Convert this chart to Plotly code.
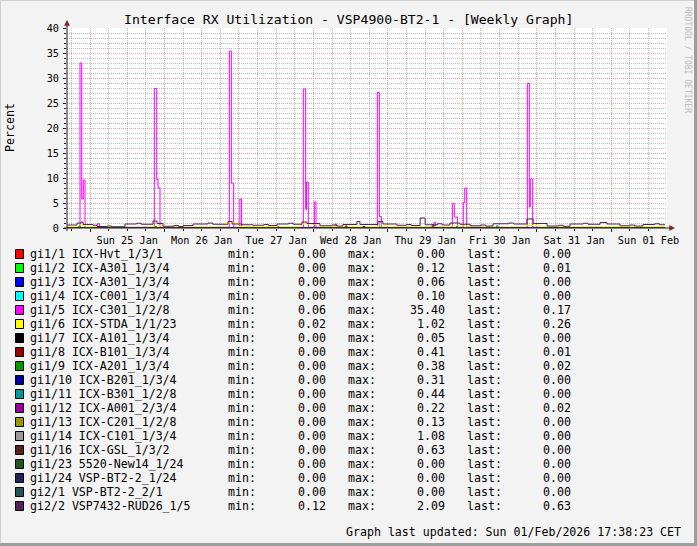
import plotly.graph_objects as go
import pandas as pd

# ---------------- data ----------------
BASE = pd.Timestamp("2026-01-25 00:00")
X_START = "2026-01-24 16:35"
X_END = "2026-02-01 17:57"

names = ["gi1/1 ICX-Hvt_1/3/1", "gi1/2 ICX-A301_1/3/4", "gi1/3 ICX-A301_1/3/4",
         "gi1/4 ICX-C001_1/3/4", "gi1/5 ICX-C301_1/2/8", "gi1/6 ICX-STDA_1/1/23",
         "gi1/7 ICX-A101_1/3/4", "gi1/8 ICX-B101_1/3/4", "gi1/9 ICX-A201_1/3/4",
         "gi1/10 ICX-B201_1/3/4", "gi1/11 ICX-B301_1/2/8", "gi1/12 ICX-A001_2/3/4",
         "gi1/13 ICX-C201_1/2/8", "gi1/14 ICX-C101_1/3/4", "gi1/16 ICX-GSL_1/3/2",
         "gi1/23 5520-New14_1/24", "gi1/24 VSP-BT2-2_1/24", "gi2/1 VSP-BT2-2_2/1",
         "gi2/2 VSP7432-RUD26_1/5"]
colors = ["#FF0000", "#00FF00", "#0000FF", "#00FFFF", "#FF00FF", "#FFFF00",
          "#000000", "#990000", "#009900", "#000099", "#009999", "#990099",
          "#999900", "#999999", "#552222", "#225522", "#222255", "#225555",
          "#552255"]
mins = [0.00, 0.00, 0.00, 0.00, 0.06, 0.02, 0.00, 0.00, 0.00, 0.00, 0.00, 0.00,
        0.00, 0.00, 0.00, 0.00, 0.00, 0.00, 0.12]
maxs = [0.00, 0.12, 0.06, 0.10, 35.40, 1.02, 0.05, 0.41, 0.38, 0.31, 0.44, 0.22,
        0.13, 1.08, 0.63, 0.00, 0.00, 0.00, 2.09]
lasts = [0.00, 0.01, 0.00, 0.00, 0.17, 0.26, 0.00, 0.01, 0.02, 0.00, 0.00, 0.02,
         0.00, 0.00, 0.00, 0.00, 0.00, 0.00, 0.63]

# step series: change times (hours after Sun 25 Jan 00:00) and values
hours = [
    [-8, 185.3],                                   # gi1/1
    [-8, 23.0, 23.5, 129.5, 130.0, 185.3],          # gi1/2
    [-8, 60.0, 61.0, 185.3],                        # gi1/3
    [-8, 130.8, 131.3, 185.3],                      # gi1/4
    [-8, -3.22, -2.67, -2.16, -1.61, 2.3, 3.0, 20.72, 21.5, 21.92, 22.56,
     44.9, 45.54, 46.3, 48.3, 48.85, 68.74, 69.5, 69.76, 70.35, 72.3, 72.84,
     79.0, 79.5, 92.6, 93.24, 93.9, 110.9, 111.4, 116.77, 117.4, 118.4,
     120.3, 120.77, 121.4, 140.94, 141.58, 141.9, 142.67, 185.3],  # gi1/5
    [-8, -3.2, -1.3, 9.7, 19.3, 24.2, 43.5, 47.7, 67.7, 74.1, 93.5, 96.7,
     116.0, 122.5, 140.2, 145.0, 164.4, 185.3],     # gi1/6
    [-8, 185.3],                                   # gi1/7
    [-8, 82.3, 82.8, 185.3],                        # gi1/8
    [-8, -3.6, -3.1, 21.0, 21.5, 185.3],            # gi1/9
    [-8, 88.0, 88.5, 185.3],                        # gi1/10
    [-8, 118.0, 118.5, 131.0, 131.5, 185.3],        # gi1/11
    [-8, 60.5, 61.0, 185.3],                        # gi1/12
    [-8, 100.0, 100.5, 185.3],                      # gi1/13
    [-8, 93.3, 93.9, 185.3],                        # gi1/14
    [-8, 110.3, 110.8, 185.3],                      # gi1/16
    [-8, 185.3],                                   # gi1/23
    [-8, 185.3],                                   # gi1/24
    [-8, 185.3],                                   # gi2/1
    [-8, -4.19, -2.9, -2.26, 0.97, 2.26, 5.5, 7.0, 11.28, 15.0, 16.5, 20.3,
     21.6, 23.5, 27.0, 28.5, 30.0, 33.2, 38.0, 39.5, 44.5, 45.8, 49.0, 52.5,
     56.0, 57.5, 60.3, 64.0, 65.5, 68.3, 69.9, 74.1, 78.0, 79.5, 81.5, 86.0,
     87.0, 92.8, 94.4, 98.9, 102.0, 103.5, 106.4, 108.0, 112.0, 113.5, 116.0,
     119.2, 122.5, 126.0, 127.5, 129.9, 135.0, 136.5, 140.8, 142.8, 147.3,
     151.0, 152.5, 154.7, 159.0, 160.5, 164.4, 166.6, 170.8, 174.0, 175.5,
     178.2, 182.0, 183.5, 185.3],                   # gi2/2
]
values = [
    [0.0, 0.0],
    [0.0, 0.12, 0.0, 0.10, 0.01, 0.01],
    [0.0, 0.06, 0.0, 0.0],
    [0.0, 0.10, 0.0, 0.0],
    [0.15, 33.0, 5.8, 9.6, 0.15, 0.85, 0.15, 27.9, 9.7, 8.0, 0.15,
     35.4, 9.0, 0.15, 5.8, 0.15, 27.8, 3.7, 9.2, 0.15, 5.2, 0.15,
     0.8, 0.15, 27.1, 2.3, 0.15, 1.1, 0.15, 4.9, 2.2, 0.15,
     5.1, 8.0, 0.15, 28.9, 4.2, 9.8, 0.15, 0.17],
    [0.3, 0.5, 0.3, 0.15, 0.4, 0.2, 1.02, 0.3, 0.8, 0.3, 0.4, 0.25,
     0.4, 0.2, 0.5, 0.25, 0.3, 0.26],
    [0.0, 0.0],
    [0.0, 0.41, 0.0, 0.01],
    [0.0, 0.38, 0.0, 0.3, 0.0, 0.02],
    [0.0, 0.31, 0.0, 0.0],
    [0.0, 0.3, 0.0, 0.44, 0.0, 0.0],
    [0.0, 0.22, 0.0, 0.02],
    [0.0, 0.13, 0.0, 0.0],
    [0.0, 1.08, 0.0, 0.0],
    [0.0, 0.63, 0.0, 0.0],
    [0.0, 0.0],
    [0.0, 0.0],
    [0.0, 0.0],
    [0.6, 1.0, 1.2, 0.7, 0.55, 0.3, 0.4, 0.25, 0.8, 0.95, 0.75, 1.4,
     0.9, 0.35, 0.5, 0.3, 0.5, 0.8, 1.0, 0.75, 1.3, 0.8, 0.65, 0.55,
     0.7, 0.5, 0.8, 0.95, 0.75, 1.2, 0.9, 0.45, 0.6, 0.4, 0.7, 1.3,
     0.7, 1.3, 0.8, 0.55, 0.7, 0.5, 2.0, 0.65, 0.85, 0.6, 1.0,
     0.75, 0.45, 0.6, 0.4, 0.85, 1.0, 0.8, 1.8, 0.9, 0.4,
     0.55, 0.35, 0.8, 0.95, 0.75, 1.1, 0.8, 0.45, 0.6, 0.4,
     0.7, 0.85, 0.65, 0.63],
]

TITLE = "Interface RX Utilization - VSP4900-BT2-1 - [Weekly Graph]"
Y_TITLE = "Percent"
UPDATED = "Graph last updated: Sun 01/Feb/2026 17:38:23 CET"
WATERMARK = "RRDTOOL / TOBI OETIKER"

# ---------------- layout geometry ----------------
W, H = 697, 546
PL, PR, PT, PB = 67, 667, 28, 228
MONO = "DejaVu Sans Mono"


def xp(px):
    return (px - PL) / (PR - PL)


def yp(py):
    return (PB - py) / (PB - PT)


fig = go.Figure()
for i in range(len(names)):
    t = BASE + pd.to_timedelta(hours[i], unit="h")
    fig.add_trace(go.Scatter(x=t, y=values[i], mode="lines", line_shape="hv",
                             line=dict(color=colors[i], width=1),
                             name=names[i], showlegend=False, hoverinfo="skip"))

MGRID = "rgba(222,79,79,0.55)"
GRID = "rgba(143,143,143,0.60)"

fig.update_xaxes(type="date", range=[X_START, X_END], tick0="2026-01-25",
                 dtick=86400000, tickformat="%a %d %b", ticklabelmode="period",
                 showgrid=True, gridcolor=MGRID, griddash="1px,1px", gridwidth=1,
                 ticks="outside", ticklen=3, tickcolor="#1F1F1F",
                 tickfont=dict(family=MONO, size=10.2, color="#000000"),
                 showline=False, zeroline=False,
                 minor=dict(dtick=6 * 3600000, tick0="2026-01-25", showgrid=True,
                            gridcolor=GRID, griddash="1px,1px", ticks="outside",
                            ticklen=2, tickcolor="#1F1F1F"))
fig.update_yaxes(range=[0, 40], tick0=0, dtick=5, showgrid=True, gridcolor=MGRID,
                 griddash="1px,1px", ticks="outside", ticklen=3, tickcolor="#1F1F1F",
                 tickfont=dict(family=MONO, size=10.2, color="#000000"),
                 ticklabelstandoff=2, showline=False, zeroline=False,
                 minor=dict(dtick=1, showgrid=True, gridcolor=GRID, griddash="1px,1px",
                            ticks="outside", ticklen=2, tickcolor="#1F1F1F"))

shapes = []
# axes with arrows
shapes.append(dict(type="line", xref="paper", yref="paper", x0=xp(PL), x1=xp(PL),
                   y0=yp(231), y1=yp(24), line=dict(color="#1F1F1F", width=1)))
shapes.append(dict(type="line", xref="paper", yref="paper", x0=xp(64), x1=xp(670),
                   y0=yp(PB), y1=yp(PB), line=dict(color="#1F1F1F", width=1)))


def tri(pts):
    s = "M " + " L ".join(f"{xp(a)},{yp(b)}" for a, b in pts) + " Z"
    return s


shapes.append(dict(type="path", xref="paper", yref="paper",
                   path=tri([(64.5, 25.5), (69.5, 25.5), (67, 20.5)]),
                   fillcolor="#801F1F", line=dict(color="#801F1F", width=0.5)))
shapes.append(dict(type="path", xref="paper", yref="paper",
                   path=tri([(669.5, 225.5), (669.5, 230.5), (674.5, 228)]),
                   fillcolor="#801F1F", line=dict(color="#801F1F", width=0.5)))
# outer frame (3d shading)
shapes.append(dict(type="line", xref="paper", yref="paper", x0=xp(0), x1=xp(W),
                   y0=yp(0.5), y1=yp(0.5), line=dict(color="#CFCFCF", width=1)))
shapes.append(dict(type="line", xref="paper", yref="paper", x0=xp(0.5), x1=xp(0.5),
                   y0=yp(0), y1=yp(H), line=dict(color="#CFCFCF", width=1)))
shapes.append(dict(type="line", xref="paper", yref="paper", x0=xp(0), x1=xp(W),
                   y0=yp(H - 1.5), y1=yp(H - 1.5), line=dict(color="#9E9E9E", width=3)))
shapes.append(dict(type="line", xref="paper", yref="paper", x0=xp(W - 1.5), x1=xp(W - 1.5),
                   y0=yp(0), y1=yp(H), line=dict(color="#9E9E9E", width=3)))

annotations = []


def txt(text, x, y, size, xanchor="left", color="#000000", angle=0):
    annotations.append(dict(text=text, x=xp(x), y=yp(y), xref="paper", yref="paper",
                            xanchor=xanchor, yanchor="middle", showarrow=False,
                            textangle=angle, borderpad=0, borderwidth=0,
                            font=dict(family=MONO, size=size, color=color)))


txt(TITLE, 348, 19, 13.1, xanchor="center")
txt(Y_TITLE, 10, 128, 11.6, xanchor="center", angle=-90)
txt(WATERMARK, 688, 60, 8, xanchor="center", color="#BDBDBD", angle=90)
txt(UPDATED, 681, 532, 11.6, xanchor="right")

LEG_SIZE = 11.6
for i in range(len(names)):
    yrow = 254 + 14 * i
    shapes.append(dict(type="rect", xref="paper", yref="paper",
                       x0=xp(15.5), x1=xp(23.5), y0=yp(249.5 + 14 * i), y1=yp(258.5 + 14 * i),
                       fillcolor=colors[i], line=dict(color="#000000", width=1)))
    txt(names[i], 30, yrow, LEG_SIZE)
    txt("min:", 228, yrow, LEG_SIZE)
    txt(f"{mins[i]:.2f}", 325.5, yrow, LEG_SIZE, xanchor="right")
    txt("max:", 347.5, yrow, LEG_SIZE)
    txt(f"{maxs[i]:.2f}", 444.5, yrow, LEG_SIZE, xanchor="right")
    txt("last:", 467, yrow, LEG_SIZE)
    txt(f"{lasts[i]:.2f}", 570.5, yrow, LEG_SIZE, xanchor="right")

fig.update_layout(width=W, height=H, autosize=False,
                  margin=dict(l=PL, r=W - PR, t=PT, b=H - PB, pad=0),
                  paper_bgcolor="#F3F3F3", plot_bgcolor="#FFFFFF",
                  font=dict(family=MONO, size=11.6, color="#000000"),
                  shapes=shapes, annotations=annotations, showlegend=False)

fig.write_html("out.html", config={"displayModeBar": False, "staticPlot": True},
               post_script="document.body.style.margin='0px';document.body.style.padding='0px';")
